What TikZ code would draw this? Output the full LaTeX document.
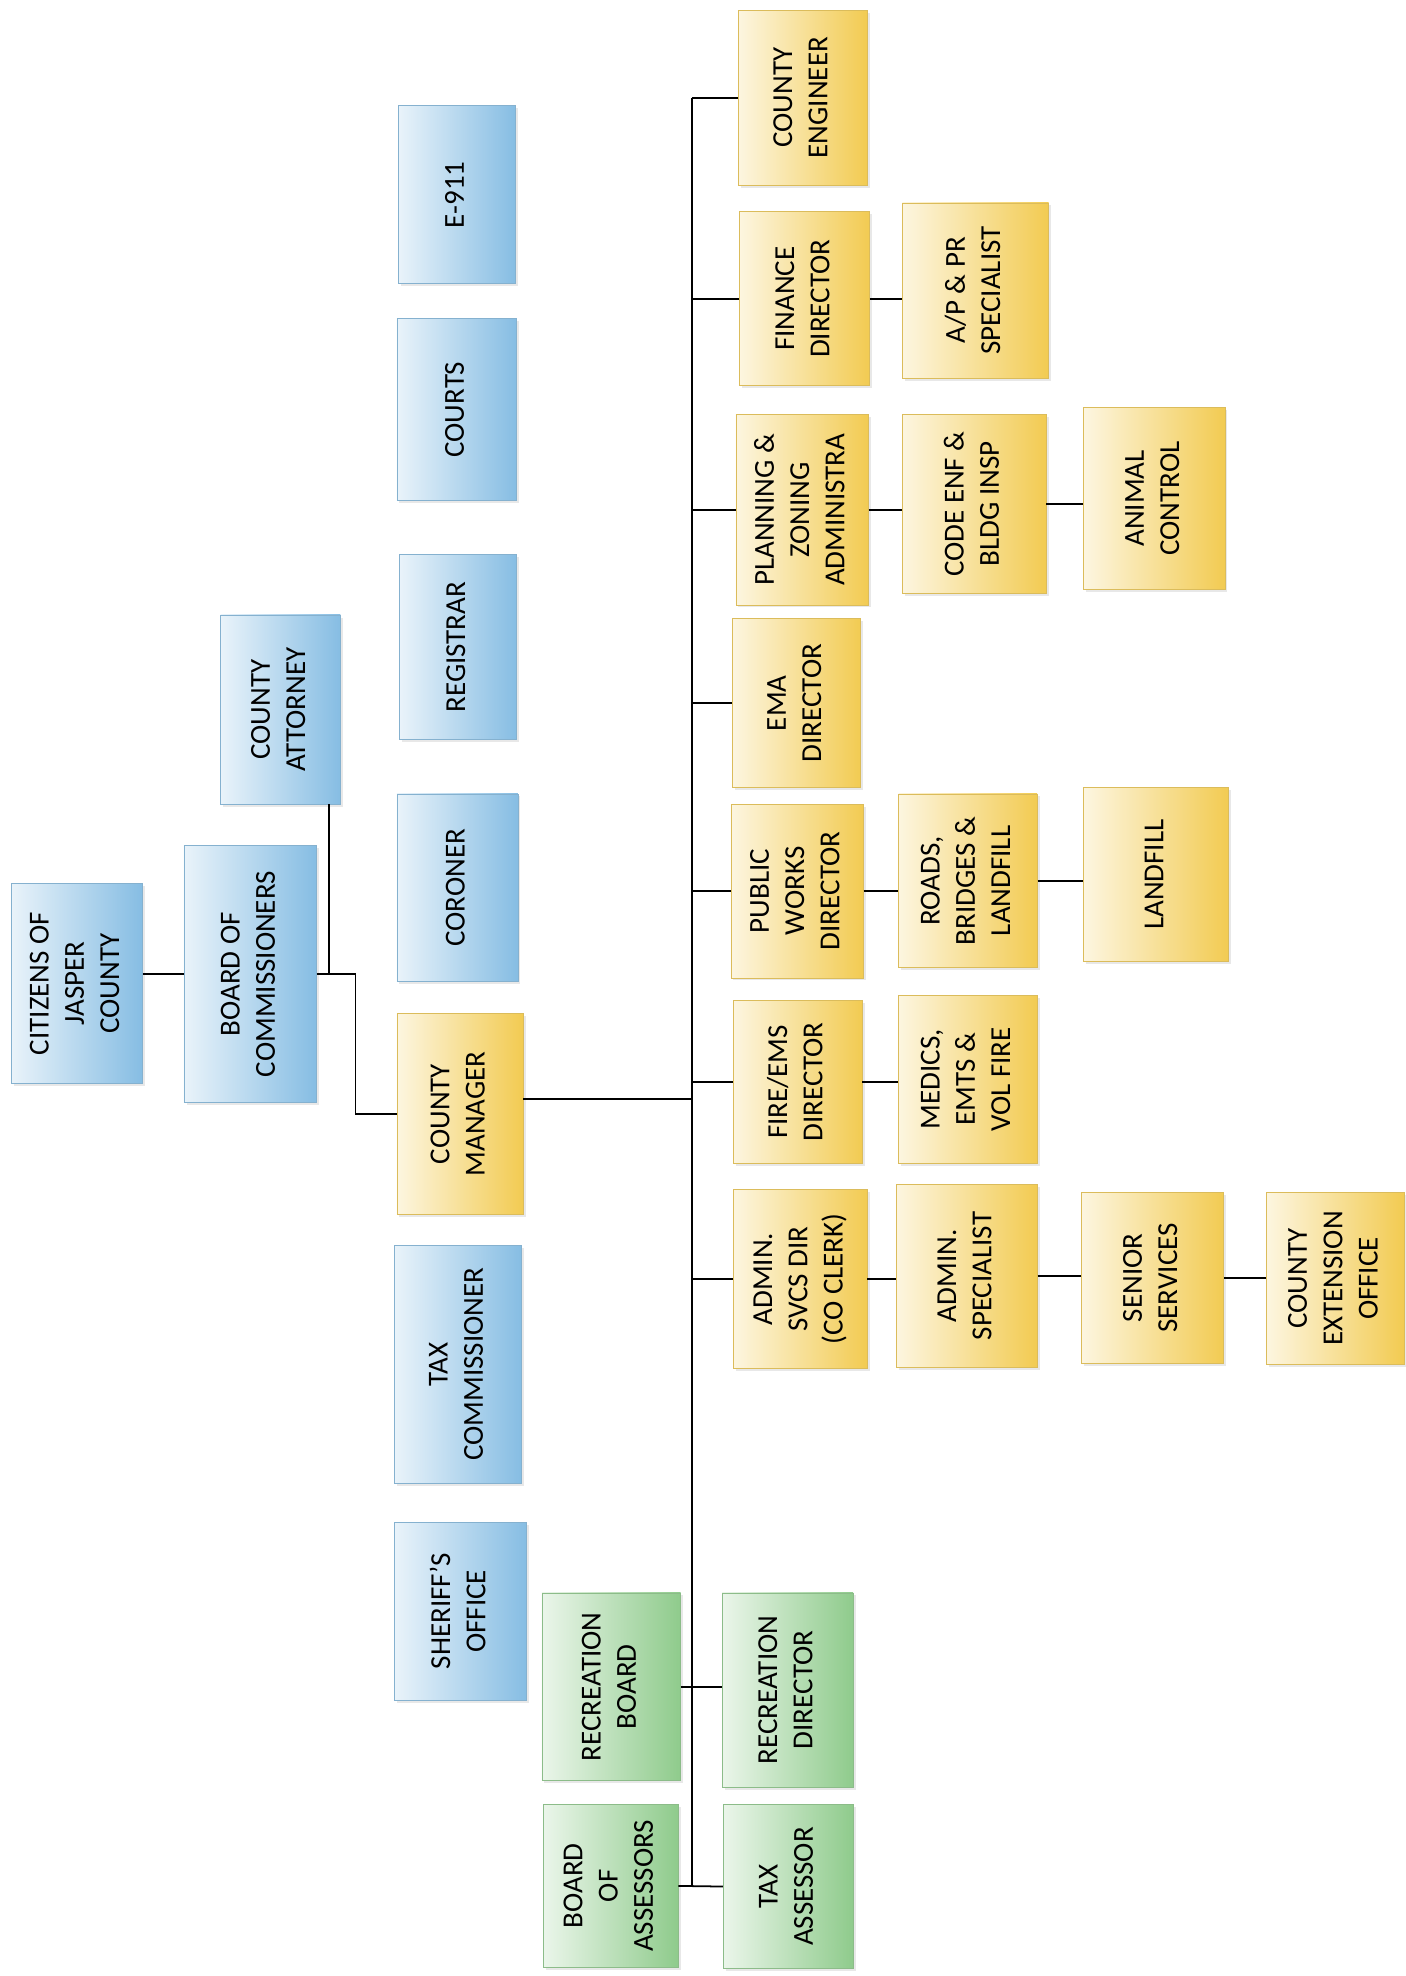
\documentclass[tikz,border=0pt]{standalone}
\usepackage{fontspec}
\setmainfont{Carlito}
\usetikzlibrary{shadows}

\definecolor{skyblue}{HTML}{86BDE3}
\definecolor{goldbox}{HTML}{F2CB52}
\definecolor{leafgreen}{HTML}{8FCB8C}

% text turned on its side, lines centred
\newcommand{\vtext}[1]{\rotatebox{90}{\begin{tabular}{@{}c@{}}#1\end{tabular}}}

\tikzset{
    orgbox/.style={rectangle, inner sep=0pt, line width=0.6pt,
        font=\fontsize{23}{28}\selectfont,
        drop shadow={shadow xshift=2pt, shadow yshift=-2pt, opacity=0.18}},
    bluebox/.style={orgbox, draw=skyblue!80!gray, left color=skyblue!18!white, right color=skyblue},
    yellowbox/.style={orgbox, draw=goldbox!80!gray, left color=goldbox!18!white, right color=goldbox},
    greenbox/.style={orgbox, draw=leafgreen!80!gray, left color=leafgreen!18!white, right color=leafgreen},
    dims/.style 2 args={minimum width=#1pt, minimum height=#2pt},
    link/.style={draw=black, line width=1.4pt}
}

\begin{document}
\begin{tikzpicture}[x=1pt, y=-1pt]
    \useasboundingbox (0,0) rectangle (1115,1568);

    % Top of the chart
    \node[bluebox, dims={104}{159}] (cit) at (61,780.5) {\vtext{CITIZENS OF\\JASPER\\COUNTY}};
    \node[bluebox, dims={105}{204}] (board) at (198.5,773) {\vtext{BOARD OF\\COMMISSIONERS}};
    \node[bluebox, dims={95}{150}] (att) at (222.5,563) {\vtext{COUNTY\\ATTORNEY}};

    % Elected offices
    \node[bluebox, dims={93}{141}] (e911) at (362.5,154.5) {\vtext{E-911}};
    \node[bluebox, dims={95}{144}] (courts) at (362.5,325) {\vtext{COURTS}};
    \node[bluebox, dims={93}{147}] (reg) at (363.5,513.5) {\vtext{REGISTRAR}};
    \node[bluebox, dims={96}{149}] (cor) at (363,704.5) {\vtext{CORONER}};
    \node[yellowbox, dims={100}{160}] (cm) at (365,884) {\vtext{COUNTY\\MANAGER}};
    \node[bluebox, dims={101}{189}] (taxc) at (363.5,1082.5) {\vtext{TAX\\COMMISSIONER}};
    \node[bluebox, dims={105}{141}] (sher) at (365.5,1278.5) {\vtext{SHERIFF’S\\OFFICE}};

    % Boards (green)
    \node[greenbox, dims={110}{149}] (recb) at (485,1338.5) {\vtext{RECREATION\\BOARD}};
    \node[greenbox, dims={107}{129}] (boa) at (484.5,1496.5) {\vtext{BOARD\\OF\\ASSESSORS}};
    \node[greenbox, dims={104}{154}] (recd) at (625,1341) {\vtext{RECREATION\\DIRECTOR}};
    \node[greenbox, dims={103}{130}] (taxa) at (625.5,1497) {\vtext{TAX\\ASSESSOR}};

    % Departments under the county manager
    \node[yellowbox, dims={102}{139}] (eng) at (637,77.5) {\vtext{COUNTY\\ENGINEER}};
    \node[yellowbox, dims={103}{138}] (fin) at (638.5,237) {\vtext{FINANCE\\DIRECTOR}};
    \node[yellowbox, dims={105}{151}] (plan) at (636.5,404.5) {\vtext{PLANNING \&\\ZONING\\ADMINISTRA}};
    \node[yellowbox, dims={102}{134}] (ema) at (632,558) {\vtext{EMA\\DIRECTOR}};
    \node[yellowbox, dims={105}{138}] (pw) at (632.5,707) {\vtext{PUBLIC\\WORKS\\DIRECTOR}};
    \node[yellowbox, dims={102}{129}] (fire) at (633,858.5) {\vtext{FIRE/EMS\\DIRECTOR}};
    \node[yellowbox, dims={106}{142}] (adm) at (635,1015) {\vtext{ADMIN.\\SVCS DIR\\(CO CLERK)}};

    % Second and third level
    \node[yellowbox, dims={116}{139}] (ap) at (774,230.5) {\vtext{A/P \& PR\\SPECIALIST}};
    \node[yellowbox, dims={114}{142}] (code) at (773,400) {\vtext{CODE ENF \&\\BLDG INSP}};
    \node[yellowbox, dims={112}{145}] (anim) at (916,395.5) {\vtext{ANIMAL\\CONTROL}};
    \node[yellowbox, dims={110}{138}] (roads) at (768,699) {\vtext{ROADS,\\BRIDGES \&\\LANDFILL}};
    \node[yellowbox, dims={115}{138}] (land) at (917.5,694) {\vtext{LANDFILL}};
    \node[yellowbox, dims={110}{133}] (med) at (768,856.5) {\vtext{MEDICS,\\EMTS \&\\VOL FIRE}};
    \node[yellowbox, dims={112}{145}] (admsp) at (767,1012.5) {\vtext{ADMIN.\\SPECIALIST}};
    \node[yellowbox, dims={113}{136}] (sen) at (914.5,1014) {\vtext{SENIOR\\SERVICES}};
    \node[yellowbox, dims={109}{137}] (ext) at (1059.5,1014.5) {\vtext{COUNTY\\EXTENSION\\OFFICE}};

    % Connectors
    \coordinate (j1) at (261,773);
    \coordinate (j2) at (282,773);
    \coordinate (t0) at (549,872);
    \coordinate (trunk) at (549,0);

    \draw[link] (board.west -| cit.east) -- (board.west);
    \draw[link] (board.east) -- (j1) -- (j2) |- (cm.west);
    \draw[link] (j1) -- (j1 |- att.south);
    \draw[link] (cm.east |- t0) -- (t0);
    \draw[link] (trunk |- eng.west) -- (trunk |- boa.east);

    \foreach \n in {eng,fin,plan,ema,pw,fire,adm}
        \draw[link] (trunk |- \n.west) -- (\n.west);

    \draw[link] (boa.east) -- (taxa.west);
    \draw[link] (recb.east) -- (recb.east -| recd.west);

    \foreach \a/\b in {fin/ap, plan/code, code/anim, pw/roads, roads/land, fire/med, adm/admsp, admsp/sen, sen/ext}
        \draw[link] (\a.east) -- (\a.east -| \b.west);
\end{tikzpicture}
\end{document}
